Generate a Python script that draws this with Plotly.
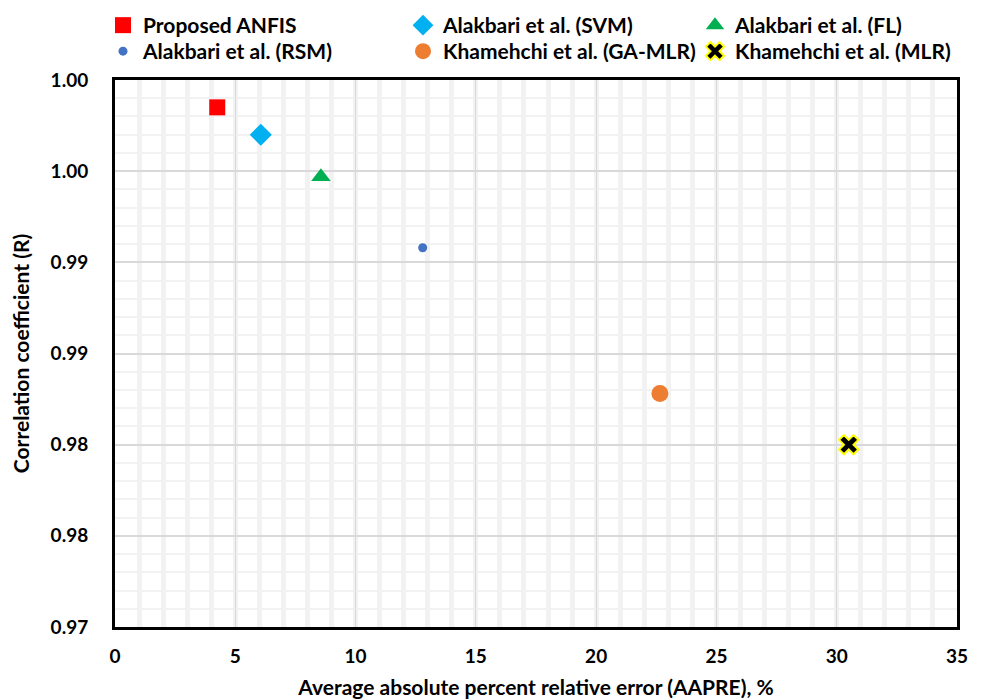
import plotly.graph_objects as go

# Model accuracy comparison: AAPRE (%) vs correlation coefficient R
models = [
    "Proposed ANFIS",
    "Alakbari et al. (SVM)",
    "Alakbari et al. (FL)",
    "Alakbari et al. (RSM)",
    "Khamehchi et al. (GA-MLR)",
    "Khamehchi et al. (MLR)",
]
aapre = [4.25, 6.06, 8.56, 12.79, 22.65, 30.5]
corr_r = [0.9985, 0.9970, 0.9947, 0.9908, 0.9828, 0.9800]

y_tick_vals = [0.970, 0.975, 0.980, 0.985, 0.990, 0.995, 1.000]
y_tick_text = ["0.97", "0.98", "0.98", "0.99", "0.99", "1.00", "1.00"]
x_tick_vals = [0, 5, 10, 15, 20, 25, 30, 35]

styles = [
    dict(symbol="square", color="#ff0000", size=16, line=dict(width=0)),
    dict(symbol="diamond", color="#00b0f0", size=17, line=dict(width=0)),
    dict(symbol="triangle-up", color="#00b050", size=17, line=dict(width=0)),
    dict(symbol="circle", color="#4472c4", size=9, line=dict(width=0)),
    dict(symbol="circle", color="#ed7d31", size=17, line=dict(width=0)),
    dict(symbol="x", color="#000000", size=17, line=dict(width=2, color="#ffff00")),
]

FONT = "Lato"
BOLD = dict(family=FONT, color="#000000", weight="bold")

W, H = 986, 699
M = dict(l=115, r=29, t=80, b=72)
PW, PH = W - M["l"] - M["r"], H - M["t"] - M["b"]

# one legend box per entry, laid out as a 3 x 2 grid above the plot (pixels)
legend_cols_px = [103, 403, 695]
legend_rows_px = [5, 31]

fig = go.Figure()
legend_layout = {}
for i, (name, x, y, st) in enumerate(zip(models, aapre, corr_r, styles)):
    key = "legend" if i == 0 else f"legend{i + 1}"
    fig.add_trace(go.Scatter(
        x=[x], y=[y], mode="markers", name=name,
        marker=st, legend=key,
    ))
    legend_layout[key] = dict(
        orientation="v",
        x=(legend_cols_px[i % 3] - M["l"]) / PW, xanchor="left",
        y=1 + (M["t"] - legend_rows_px[i // 3]) / PH, yanchor="top",
        font=dict(size=21, **BOLD),
        itemsizing="trace",
        borderwidth=0,
        bgcolor="rgba(0,0,0,0)",
    )

fig.update_layout(
    width=W, height=H,
    paper_bgcolor="white", plot_bgcolor="white",
    margin=dict(**M, autoexpand=False),
    font=dict(family=FONT, size=19, color="#000000"),
    showlegend=True,
    **legend_layout,
)

fig.update_xaxes(
    range=[0, 35],
    tickvals=x_tick_vals,
    automargin=False,
    showgrid=True, gridcolor="#d9d9d9", gridwidth=1,
    minor=dict(dtick=1, showgrid=True, gridcolor="#f2f2f2", gridwidth=5),
    showline=True, mirror=True, linecolor="#000000", linewidth=3,
    zeroline=False,
    ticks="", ticklabelstandoff=10,
    tickfont=dict(size=19, **BOLD),
    title=dict(text="Average absolute percent relative error (AAPRE), %",
               font=dict(size=21, **BOLD),
               standoff=16),
)

fig.update_yaxes(
    range=[0.970, 1.000],
    tickvals=y_tick_vals, ticktext=y_tick_text,
    automargin=False,
    showgrid=True, gridcolor="#d9d9d9", gridwidth=2,
    minor=dict(dtick=0.001, tick0=0.970, showgrid=True, gridcolor="#f2f2f2", gridwidth=2),
    showline=True, mirror=True, linecolor="#000000", linewidth=3,
    zeroline=False,
    ticks="", ticklabelstandoff=20,
    tickfont=dict(size=19, **BOLD),
    title=dict(text="Correlation coefficient (R)",
               font=dict(size=21, **BOLD),
               standoff=16),
)

fig.write_html("out.html")
